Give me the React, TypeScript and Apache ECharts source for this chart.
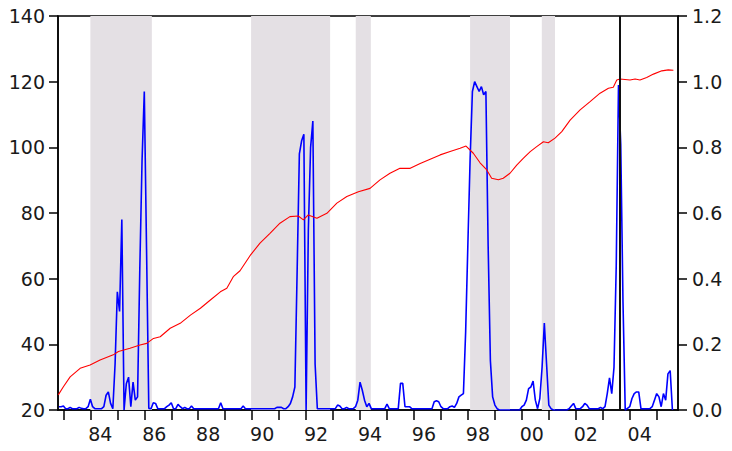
import React, { useEffect, useRef } from "react";
import * as echarts from "echarts";

// Monthly blue series (right axis), starting November 1982, ending August 2005
const blueStartYear = 1982;
const blueStartMonth = 11;
const blueProb: number[] = [
  // 1982 Nov-Dec
  0.01, 0.01,
  // 1983
  0.012, 0.004, 0.004, 0.008, 0.004, 0.004, 0.004, 0.008, 0.005, 0.004, 0.004, 0.01,
  // 1984
  0.033, 0.01, 0.004, 0.004, 0.004, 0.004, 0.01, 0.045, 0.055, 0.02, 0.004, 0.14,
  // 1985
  0.36, 0.3, 0.58, 0.0, 0.08, 0.1, 0.01, 0.085, 0.03, 0.04, 0.43, 0.76,
  // 1986
  0.97, 0.49, 0.005, 0.004, 0.022, 0.02, 0.004, 0.004, 0.004, 0.004, 0.01, 0.015,
  // 1987
  0.022, 0.004, 0.004, 0.017, 0.01, 0.004, 0.008, 0.004, 0.004, 0.012, 0.004, 0.004,
  // 1988
  0.004, 0.004, 0.004, 0.004, 0.004, 0.004, 0.004, 0.004, 0.004, 0.004, 0.022, 0.004,
  // 1989
  0.004, 0.004, 0.004, 0.004, 0.004, 0.004, 0.004, 0.004, 0.012, 0.004, 0.004, 0.004,
  // 1990
  0.004, 0.004, 0.004, 0.004, 0.004, 0.004, 0.004, 0.004, 0.004, 0.004, 0.004, 0.008,
  // 1991
  0.008, 0.008, 0.004, 0.004, 0.01, 0.02, 0.04, 0.07, 0.42, 0.78, 0.82, 0.84,
  // 1992
  0.0, 0.55, 0.8, 0.88, 0.14, 0.004, 0.004, 0.004, 0.004, 0.004, 0.004, 0.004,
  // 1993
  0.004, 0.004, 0.015, 0.012, 0.004, 0.004, 0.008, 0.004, 0.004, 0.004, 0.01, 0.03,
  // 1994
  0.085, 0.06, 0.03, 0.01, 0.02, 0.004, 0.004, 0.004, 0.004, 0.004, 0.004, 0.004,
  // 1995
  0.018, 0.004, 0.004, 0.004, 0.004, 0.004, 0.081, 0.081, 0.01, 0.01, 0.01, 0.004,
  // 1996
  0.004, 0.004, 0.004, 0.004, 0.004, 0.004, 0.004, 0.004, 0.004, 0.025, 0.028, 0.025,
  // 1997
  0.01, 0.004, 0.004, 0.004, 0.01, 0.012, 0.008, 0.02, 0.04, 0.045, 0.05, 0.24,
  // 1998
  0.51, 0.77, 0.97, 1.0, 0.985, 0.97, 0.985, 0.96, 0.97, 0.5, 0.15, 0.04,
  // 1999
  0.015, 0.004, 0.0, 0.0, 0.0, 0.0, 0.0, 0.0, 0.0, 0.0, 0.0, 0.0,
  // 2000
  0.01, 0.015, 0.03, 0.065, 0.07, 0.088, 0.03, 0.004, 0.035, 0.13, 0.265, 0.14,
  // 2001
  0.015, 0.004, 0.0, 0.0, 0.0, 0.0, 0.0, 0.0, 0.0, 0.004, 0.012, 0.02,
  // 2002
  0.004, 0.004, 0.004, 0.01, 0.02, 0.015, 0.004, 0.004, 0.004, 0.004, 0.004, 0.008,
  // 2003
  0.004, 0.01, 0.05, 0.098, 0.05, 0.13, 0.44, 0.99, 0.81, 0.33, 0.0, 0.005,
  // 2004
  0.01, 0.035, 0.05, 0.055, 0.055, 0.004, 0.004, 0.004, 0.004, 0.004, 0.01, 0.03,
  // 2005 Jan-Aug
  0.05, 0.04, 0.01, 0.05, 0.03, 0.11, 0.12, 0.0,
];

// Red series (left axis), read at these dates
const redDates: number[] = [
  1982.81, 1983.0, 1983.25, 1983.62, 1983.99, 1984.36, 1984.85, 1985.04, 1985.47, 1985.84,
  1986.09, 1986.34, 1986.59, 1986.96, 1987.33, 1987.71, 1988.08, 1988.45, 1988.82, 1989.06,
  1989.3, 1989.55, 1989.92, 1990.29, 1990.66, 1991.03, 1991.4, 1991.71, 1991.9, 1992.08,
  1992.4, 1992.77, 1993.14, 1993.51, 1993.94, 1994.37, 1994.74, 1995.11, 1995.48, 1995.86,
  1996.23, 1996.6, 1996.97, 1997.34, 1997.71, 1997.93, 1998.2, 1998.45, 1998.7, 1998.88,
  1999.13, 1999.31, 1999.56, 1999.81, 2000.06, 2000.31, 2000.55, 2000.8, 2000.98, 2001.23,
  2001.48, 2001.79, 2002.16, 2002.53, 2002.9, 2003.21, 2003.39, 2003.52, 2003.64, 2004.01,
  2004.2, 2004.38, 2004.63, 2004.88, 2005.19, 2005.43, 2005.62,
];
const redValues: number[] = [
  24.6, 27.1, 30.1, 32.7, 33.7, 35.2, 36.8, 37.8, 38.8, 39.8,
  40.3, 41.8, 42.3, 44.9, 46.4, 48.9, 51.0, 53.5, 56.0, 57.1,
  60.6, 62.4, 67.0, 70.8, 73.8, 76.9, 78.9, 79.1, 77.9, 79.4,
  78.4, 79.9, 83.0, 85.0, 86.5, 87.5, 90.1, 92.1, 93.6, 93.6,
  95.1, 96.4, 97.7, 98.7, 99.7, 100.4, 98.2, 95.3, 93.1, 90.6,
  90.1, 90.6, 92.1, 94.6, 96.7, 98.7, 100.2, 101.7, 101.4, 102.8,
  104.8, 108.3, 111.4, 113.9, 116.5, 118.0, 118.3, 120.5, 120.8, 120.5,
  120.8, 120.5, 121.3, 122.3, 123.3, 123.6, 123.5,
];

// Shaded periods
const shadeStarts: number[] = [1984.0, 1989.96, 1993.84, 1998.08, 2000.74];
const shadeEnds: number[] = [1986.28, 1992.89, 1994.4, 1999.56, 2001.23];
const markerDate = 2003.64;

// Axis ticks / labels
const tickYears: number[] = [
  1983, 1984, 1985, 1986, 1987, 1988, 1989, 1990, 1991, 1992, 1993, 1994,
  1995, 1996, 1997, 1998, 1999, 2000, 2001, 2002, 2003, 2004, 2005,
];
const labelYears: number[] = [1984, 1986, 1988, 1990, 1992, 1994, 1996, 1998, 2000, 2002, 2004];
const labelOffset = 0.37;

const FONT = "DejaVu Sans";
const TEXT = "#1a1a1a";

export default function App() {
  const ref = useRef<HTMLDivElement>(null);
  useEffect(() => {
    if (!ref.current) return;
    const chart = echarts.init(ref.current, undefined, { renderer: "svg" });
    const blueData = blueProb.map((v, i) => [
      blueStartYear + (blueStartMonth - 1 + i) / 12,
      v,
    ]);
    const redData = redDates.map((d, i) => [d, redValues[i]]);
    const axisLine = { show: true, lineStyle: { color: "#000", width: 1.5 } };
    chart.setOption({
      animation: false,
      backgroundColor: "#fff",
      grid: {
        left: 58,
        right: 54,
        top: 16,
        bottom: 41,
        show: true,
        borderColor: "#000",
        borderWidth: 1.5,
        backgroundColor: "transparent",
      },
      xAxis: {
        type: "value",
        min: 1982.8,
        max: 2005.79,
        axisLine,
        splitLine: { show: false },
        axisTick: {
          show: true,
          length: 10,
          customValues: tickYears,
          lineStyle: { color: "#000", width: 1.5 },
        },
        axisLabel: {
          show: true,
          customValues: labelYears.map((y) => y + labelOffset),
          formatter: (v: number) => String(Math.floor(v) % 100).padStart(2, "0"),
          fontFamily: FONT,
          fontSize: 19,
          color: TEXT,
          margin: 14,
        },
      },
      yAxis: [
        {
          type: "value",
          min: 20,
          max: 140,
          interval: 20,
          position: "left",
          axisLine,
          splitLine: { show: false },
          axisTick: { show: true, length: 9, lineStyle: { color: "#000", width: 1.5 } },
          axisLabel: { fontFamily: FONT, fontSize: 19, color: TEXT, margin: 13 },
        },
        {
          type: "value",
          min: 0,
          max: 1.2,
          interval: 0.2,
          position: "right",
          axisLine,
          splitLine: { show: false },
          axisTick: { show: true, length: 9, lineStyle: { color: "#000", width: 1.5 } },
          axisLabel: {
            fontFamily: FONT,
            fontSize: 19,
            color: TEXT,
            margin: 14,
            formatter: (v: number) => v.toFixed(1),
          },
        },
      ],
      series: [
        {
          type: "line",
          data: [],
          z: 1,
          silent: true,
          markArea: {
            silent: true,
            itemStyle: { color: "#e4e0e4" },
            data: shadeStarts.map((s, i) => [{ xAxis: s }, { xAxis: shadeEnds[i] }]),
          },
          markLine: {
            silent: true,
            symbol: ["none", "none"],
            label: { show: false },
            lineStyle: { color: "#111", width: 2, type: "solid" },
            data: [{ xAxis: markerDate }],
          },
        },
        {
          type: "line",
          yAxisIndex: 1,
          data: blueData,
          showSymbol: false,
          z: 3,
          lineStyle: { color: "#0000ff", width: 1.6 },
        },
        {
          type: "line",
          yAxisIndex: 0,
          data: redData,
          showSymbol: false,
          z: 4,
          lineStyle: { color: "#ff0000", width: 1.1 },
        },
      ],
    });
    return () => chart.dispose();
  }, []);
  return <div ref={ref} style={{ width: 732, height: 451, position: "absolute", left: 0, top: 0 }} />;
}
